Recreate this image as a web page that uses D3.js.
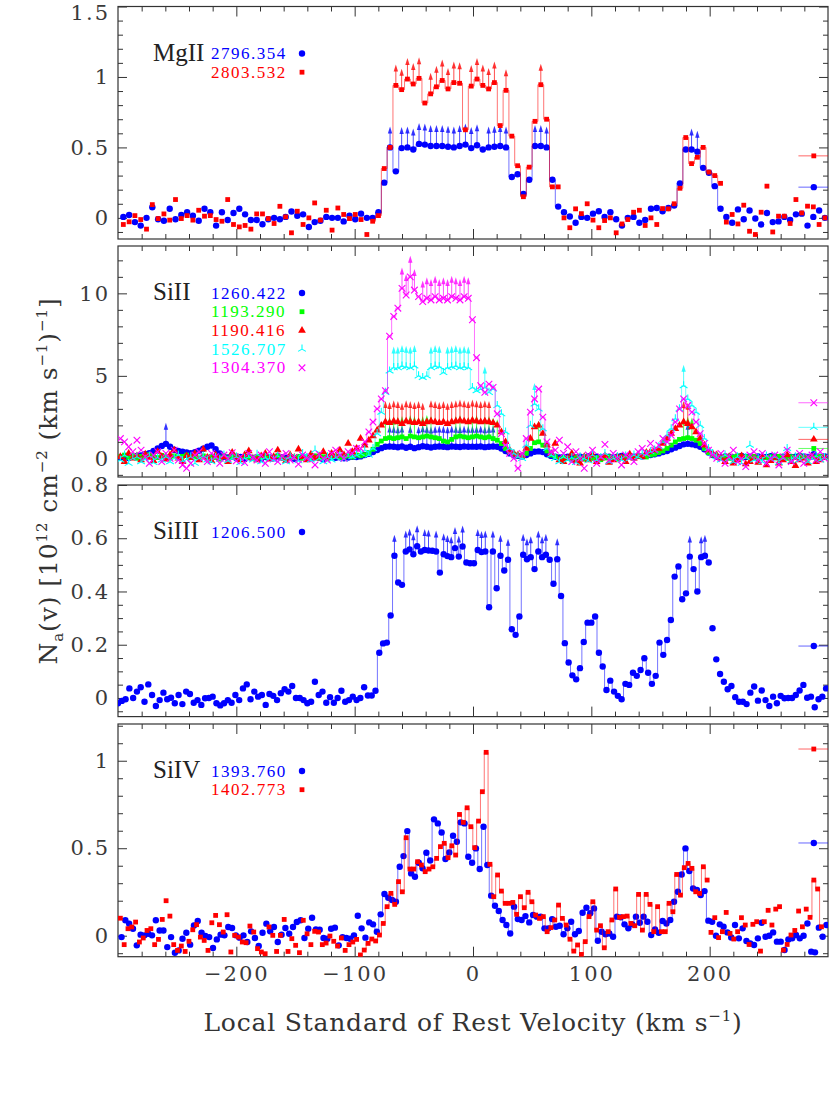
<!DOCTYPE html>
<html>
<head>
<meta charset="utf-8">
<script src="https://cdn.jsdelivr.net/npm/d3@7"></script>
<style>
  body { margin: 0; background: #fff; }
</style>
</head>
<body>
<script>
// velocity grids (km/s): first bin and bin width for each spectrum
const mgV0 = -295.5, mgDv = 4.9;
const siiV0 = -298, siiDv = 3.5;
const siiiV0 = -300, siiiDv = 3.2;
const sivBlueV0 = -297, sivRedV0 = -298, sivDv = 3.22;

// apparent column density, 10^12 cm^-2 (km/s)^-1
const mg2796 = [0.007,0.02,-0.03,-0.055,0,0.075,-0.01,-0.02,0.065,-0.01,
  0.02,0.04,0.015,-0.02,0.065,0.04,-0.055,0.04,-0.015,0.035,
  0.065,0.025,-0.015,-0.015,-0.045,-0.01,0,-0.01,0.007,0.045,
  0.015,0.025,-0.065,-0.03,-0.02,0.007,0,0,-0.025,0.015,
  -0.01,0.03,0,0,0.04,0.25,0.5,0.33,0.495,0.5,
  0.485,0.525,0.52,0.51,0.51,0.51,0.505,0.5,0.51,0.52,
  0.495,0.515,0.485,0.5,0.505,0.51,0.5,0.29,0.31,0.17,
  0.27,0.51,0.51,0.5,0.27,0.08,0.04,0.01,-0.035,0.007,
  0,0.03,0.047,0.007,0.04,-0.01,-0.055,0,0.007,-0.035,
  -0.015,0.065,0.07,0.047,0.07,0.087,0.245,0.485,0.485,0.47,
  0.355,0.32,0.225,0.065,0.007,-0.035,0.06,-0.01,0.052,-0.005,
  -0.047,0.035,-0.03,-0.025,0.007,-0.015,0.025,0.03,-0.055,0.007,
  0.052,0,-0.012];
const mg2803 = [-0.047,-0.028,0.016,-0.012,-0.08,0.094,-0.005,0.028,-0.016,0.13,
  -0.005,0.016,-0.016,0.054,0.012,0.016,-0.012,-0.024,0.13,-0.047,
  -0.064,-0.054,-0.08,0.028,0.028,-0.005,-0.04,0.082,0.007,-0.106,
  0.047,-0.047,0,0.106,-0.016,0.054,-0.087,0.07,0.024,-0.005,
  0.024,-0.012,-0.118,-0.024,0.016,0.35,0.5,0.94,0.91,0.985,
  0.95,0.99,0.815,0.88,0.93,0.975,0.915,0.96,0.955,0.625,
  0.935,0.985,0.94,0.915,0.96,0.655,0.905,0.58,0.37,0.15,
  0.36,0.685,0.945,0.7,0.22,0.22,0,-0.07,0.064,0.03,
  0.1,-0.016,-0.07,-0.019,0,-0.106,-0.043,-0.012,0.04,0.054,
  -0.054,0,-0.047,0.066,0.064,0.1,0.21,0.57,0.385,0.43,
  0.5,0.325,0.3,0.245,-0.03,0.024,-0.043,0.09,-0.095,-0.118,
  0.04,0.225,-0.1,0.012,0.012,-0.04,0.13,0.035,0.083,0.078,
  -0.047,0,-0.04];
const mg2796Lim = [46,48,49,50,51,52,53,54,55,56,57,58,59,60,61,63,64,65,66,71,72,73,98,99];
const mg2803Lim = [47,48,49,50,51,53,54,55,56,57,58,60,61,62,63,64,66,72];

const sii1260 = [0.05,0.12,0.02,0.1,0.15,0.18,
  0.25,0.32,0.45,0.6,0.75,0.88,0.7,0.52,0.45,0.4,0.36,0.32,0.38,0.46,0.58,0.7,0.78,0.55,0.3,
  0.1,0.05,0.12,0,0.08,-0.05,0.1,0.03,0.07,-0.02,0.1,0.05,0,0.12,0.06,0.02,0.09,-0.03,0.05,0.1,
  0.04,0,0.08,0.05,-0.04,0.06,0.1,0.03,0.07,0,0.05,0.1,0.08,0.12,0.2,
  0.28,0.38,0.5,0.62,0.7,0.72,0.7,0.67,
  0.72,0.64,0.7,0.62,0.68,0.73,0.7,0.66,0.7,0.72,0.7,0.68,0.72,0.7,0.69,0.72,0.7,0.71,0.7,0.72,0.68,0.7,0.72,0.7,
  0.6,0.45,0.3,0.2,0.15,0.12,
  0.2,0.3,0.4,0.42,0.38,0.25,0.15,
  0.1,0.05,0.08,0.1,0.12,0.06,0.1,0.05,0.12,0.08,0.1,0.06,0.12,0.1,0.05,0.1,0.14,0.08,0.12,0.1,0.15,0.12,0.18,0.2,0.25,0.3,0.38,
  0.45,0.55,0.65,0.75,0.85,0.88,0.85,0.8,0.7,0.55,0.35,0.2,0.1,
  0.08,0.12,0.1,0.05,0.1,0.14,0.08,0.1,0.06,0.12,0.1,0.08,0.13,0.1,0.05,0.1,0.12,0.08,0.1,0.14,0.1,0.06,0.12,0.1,0.08,0.12];
const sii1193 = [0.1,0.2,0.05,0.15,0,0.12,0.08,0.22,0.1,0.05,
  0.18,0.1,0.02,0.15,0.08,0.12,0.2,0.05,0.1,0,
  0.15,0.08,0.12,0.05,-0.05,0.1,0.02,0.08,0.15,0,
  0.1,0.05,-0.02,0.12,0.06,0.1,0,0.08,0.15,0.05,
  -0.05,0.1,0.04,0.12,0,0.08,0.05,0.15,0.02,0.1,
  -0.03,0.08,0.12,0.05,0.1,0.15,0.08,0.2,0.15,0.22,
  0.35,0.55,0.85,1.05,1.2,1.25,1.2,
  1.25,1.3,1.2,1.35,1.3,1.25,1.3,1.35,1.3,1.25,1.2,1.05,1,1.15,1.3,1.35,1.3,1.25,1.3,1.35,1.3,1.25,1.3,1.2,1.1,
  0.9,0.6,0.4,0.25,0.15,0.1,
  0.3,0.6,0.95,1,0.8,0.45,0.2,
  0.1,-0.05,0.05,0,-0.1,0.08,0.02,-0.05,0.1,0,0.05,-0.08,0.02,0.1,0,-0.05,0.08,0.05,0.12,0,0.1,0.15,0.08,0.2,0.25,0.35,0.45,
  0.6,0.8,1,1.15,1.2,1.25,1.2,1.1,0.9,0.6,0.35,0.2,0.1,
  0.05,0.12,0,0.08,0.15,0.02,0.1,0.05,0.12,0,0.08,0.05,0.1,0.02,0.12,0.08,0,0.1,0.05,0.15,0.08,0.02,0.1,0.05,0.12,0.08];
const sii1190 = [0.1,-0.2,0.3,0,0.15,-0.1,0.25,0.05,-0.15,0.4,
  0.1,-0.05,0.2,0.5,0,-0.2,0.15,0.05,0.3,-0.1,
  0.55,0.05,-0.15,0.2,0,0.1,-0.2,0.35,0.05,-0.1,
  0.2,0.45,0,-0.1,0.15,0.3,-0.05,0.1,0.5,0,
  -0.15,0.2,0.05,0.55,0.1,-0.1,0.25,0,0.15,0.4,
  0.1,0.3,0.15,0.5,0.2,0.9,0.4,0.6,1.2,0.8,
  1.1,1.35,1.7,2,2.2,2.15,2.25,
  2.2,2.1,2.25,2.2,2.15,2.2,2.1,2.2,2.25,2.2,2.15,2.2,2.1,2.2,2.25,2.3,2.25,2.2,2.3,2.25,2.2,2.25,2.2,2.15,2,
  1.6,1,0.5,0.3,0.2,0.15,
  0.6,1.2,1.9,2,1.5,0.8,0.3,
  0.9,-0.1,-0.2,0,0.3,-0.15,-0.3,0.1,-0.1,0.2,-0.2,0,0.15,-0.25,-0.1,0.1,0.05,-0.2,0.25,0,0.2,0.1,0.35,0.4,0.5,0.6,0.9,
  1.2,1.5,1.8,2,2.2,2.1,1.9,1.6,1.2,0.8,0.5,0.3,0.2,
  0,-0.2,0.1,-0.3,-0.1,0.15,-0.35,-0.2,0,-0.25,0.1,-0.4,-0.15,0.05,-0.3,-0.1,0.2,-0.2,-0.45,-0.1,0,-0.3,0.1,-0.2,-0.1,0.05];
const sii1526 = [-0.1,0.2,-0.3,0,0.1,-0.2,-0.05,0.15,-0.25,0.05,
  -0.1,0.1,-0.2,0,0.2,-0.15,-0.05,0.1,-0.3,0,
  0.15,-0.1,-0.2,0.05,-0.05,0.2,-0.15,0,0.1,-0.25,
  0,0.1,-0.1,0.25,-0.2,0.05,0,-0.1,0.15,-0.05,
  -0.2,0.1,0,-0.15,0.3,0.05,-0.1,0.5,0,-0.2,
  0.1,-0.1,0.05,0.2,-0.05,0.15,0.1,0.2,0.3,0.5,
  0.2,0.6,1.5,2.8,4,5.3,5.5,5.5,5.6,5.55,5.5,5.6,5,4.9,5,5.5,5.6,5.55,5.2,5.5,5.55,5.6,5.5,5.55,5.5,4.3,4.1,4.2,4.3,4,4.2,3.2,
  2.7,1.6,0.6,0.3,0.1,0,
  0.8,2,3.3,3,1.8,0.6,0.2,
  0,-0.2,0.1,-0.1,0.05,-0.25,0.1,0,-0.15,0.2,-0.1,0.05,0.3,-0.2,0,0.1,-0.1,0.15,0,0.2,0.1,0.3,0.25,0.4,0.5,0.7,1,
  1.4,1.8,2.4,3,4.4,3.6,3.2,2.8,2,1.2,0.6,0.3,0.1,
  -0.1,0.2,0,-0.2,0.1,-0.3,0.05,0.8,-0.1,0,-0.2,0.15,-0.05,0.1,-0.25,0,0.6,-0.15,0.1,-0.1,0.05,-0.2,0,0.15,-0.1,0.05];
const sii1304 = [1.2,1,0.7,0.4,1.1,0.5,0.1,-0.3,0.2,0.4,
  -0.2,0.3,0,0.5,-0.1,-0.4,-0.6,-0.3,0.2,0.4,
  0,-0.2,0.3,0.1,-0.3,0.2,0,0.35,-0.15,0.1,
  -0.25,0.3,0.05,-0.1,0.2,-0.3,0.4,0,-0.2,0.15,
  0.3,-0.1,0.05,-0.35,0.2,0,0.1,-0.4,0.25,0,
  -0.1,0.3,0.5,0.2,0,0.4,0.3,0.6,0.6,1,
  1.6,2.2,3,3.6,4.1,7.4,8.6,9.1,10.3,9.9,11,10.2,9.8,9.5,9.7,9.6,9.8,9.6,9.7,9.6,9.8,9.7,9.6,9.8,9.7,8.4,6.1,4.4,4,4.5,4.3,2.7,
  1.5,0.8,0.3,0,-0.6,0.3,
  1.2,2.8,3.6,4.2,2.5,1,0.4,
  0.5,1.1,0.3,0.7,-0.2,0.4,0,-0.6,0.2,0.5,-0.3,0.1,0.85,-0.1,0.3,0,-0.4,0.2,0.1,-0.2,0.4,0.6,0.3,0.9,0.5,0.8,1.2,
  1,1.4,2.2,3,3.6,3.2,2.8,2.2,1.5,0.9,0.5,0.2,0,
  0.3,-0.3,0.1,0.5,-0.2,0,-0.5,0.2,0.4,-0.1,0.3,-0.3,0,0.2,-0.4,0.1,0.5,-0.2,0,0.3,-0.3,0.1,0.2,-0.1,0.4,0];
const sii1260Lim = [11,65,66,67,68,70,72,73,74,75,76,77,78,79,80,81,82,83,84,85,86,87,88,89,90,137];
const sii1193Lim = [64,65,66,67,68,70,71,73,74,75,81,82,84,85,86,88,89,90,91,101,136,137,138];
const sii1190Lim = [64,65,66,67,68,69,70,71,72,73,75,76,77,78,79,80,81,82,83,84,85,86,87,88,89,136,137];
const sii1526Lim = [66,67,68,69,70,71,75,76,77,79,80,81,82,83,84,88,100,136];
const sii1304Lim = [68,69,70,71,73,74,75,76,77,78,79,80,81,82,83,84];

const siii1206 = [-0.02,-0.011,-0.005,0.036,0,0.024,0.04,-0.014,0.051,0.011,
  -0.03,-0.008,0.02,-0.005,0.001,-0.02,0.011,-0.023,0.024,0.015,
  -0.018,-0.008,-0.026,-0.001,0,0.005,-0.02,-0.028,-0.02,-0.008,
  -0.018,0.011,-0.008,0.036,0.051,-0.005,0.024,0.005,0.011,-0.026,
  0.015,0.008,-0.008,0.018,0.033,0.024,0.045,0,0,-0.008,
  -0.02,-0.014,0.061,0.011,0.024,-0.018,0.003,-0.018,0,0.027,
  -0.014,-0.008,0.005,-0.008,0,0.04,0.009,0.009,0.027,
  0.17,0.205,0.208,0.31,0.534,0.434,0.425,0.55,0.558,0.54,
  0.57,0.55,0.556,0.554,0.553,0.55,0.471,0.54,0.533,0.529,
  0.563,0.531,0.569,0.509,0.506,0.506,0.556,0.548,0.55,0.341,
  0.55,0.412,0.534,0.479,0.519,0.258,0.237,0.306,0.538,0.521,
  0.529,0.484,0.55,0.529,0.538,0.519,0.429,0.521,0.383,0.206,
  0.133,0.085,0.07,0.112,0.21,0.283,0.283,0.306,0.17,0.118,
  0.03,0.065,0.024,0.008,-0.005,0.053,0.049,0.095,0.083,0.105,
  0.149,0.095,0.053,0.083,0.208,0.162,0.218,0.293,0.456,0.494,
  0.371,0.393,0.531,0.484,0.4,0.529,0.534,0.509,0.262,0.145,
  0.09,0.061,0.033,0.045,0.003,-0.014,-0.014,-0.023,0.02,0.043,
  -0.01,0.028,-0.008,-0.03,0.005,-0.02,0.008,-0.001,0,0,
  0.011,0.028,0.049,0.001,0.005,-0.035,-0.005,0.005,0.036];
const siii1206Lim = [73,76,77,78,79,81,82,84,86,87,88,89,90,91,95,96,97,99,101,103,107,108,109,111,112,113,116,151,154,155];

const siv1393 = [-0.008,0.088,0.069,0.04,-0.055,0.006,0.002,0.011,0.002,0.088,
  0.03,0.03,-0.065,-0.008,-0.097,-0.084,-0.017,0.017,-0.051,0.059,
  0.084,0.017,-0.002,-0.008,-0.07,-0.021,0.006,0.002,0.05,0.044,
  0.002,-0.011,0.002,-0.036,0.025,-0.013,-0.059,0.017,0.069,0.025,
  0.05,-0.036,0.006,0.044,0.011,0.05,0.078,0.088,-0.013,0.04,
  0.103,0.036,0.034,-0.013,-0.017,0.04,0.046,-0.055,-0.008,-0.013,
  -0.017,0.002,
  0.114,0.042,-0.011,0.076,0.065,0.023,0.122,0.238,0.217,0.204,
  0.194,0.394,0.455,0.598,0.356,0.337,0.417,0.385,0.474,0.43,
  0.665,0.642,0.59,0.438,0.476,0.571,0.537,0.648,0.642,0.451,
  0.417,0.499,0.381,0.623,0.404,0.229,0.171,0.141,0.09,0.061,
  0.013,0.166,0.095,0.09,0.112,0.076,0.118,0.109,0.109,0.042,
  0.042,0.095,0.051,0.057,0.008,0.042,0.08,0.008,0.027,0.131,
  0.16,0.128,0.156,-0.029,0.023,0.008,0.013,-0.006,0.109,0.105,
  0.065,0.042,0.065,0.109,0.074,0.109,0.08,0.004,0.036,0.017,
  0.084,0.07,0.09,0.194,0.251,0.35,0.499,0.37,0.27,0.261,
  0.232,0.255,0.086,0.08,0,0.065,0.051,0.019,-0.01,0.061,
  -0.015,0.042,-0.03,-0.044,-0.053,-0.015,0.074,-0.006,0,0.019,
  -0.034,-0.034,-0.082,-0.021,-0.015,0.004,-0.015,0,0.07,-0.091,
  -0.095,0.046,-0.006,0.061];
const siv1402 = [0.1,-0.051,0.04,0.05,0.078,-0.036,-0.013,0.03,0.04,-0.051,
  -0.021,0.093,0.2,0.112,-0.051,-0.084,-0.059,-0.09,-0.032,0.034,
  0.063,-0.008,-0.027,-0.084,0.074,0.116,0.063,0.021,0.12,-0.093,
  0.002,-0.008,-0.036,-0.04,0.055,0.021,-0.074,-0.093,-0.103,0.05,
  0.002,-0.09,0.002,0.093,-0.09,-0.017,-0.055,-0.097,0.088,0.011,
  -0.051,0.025,0.021,-0.051,-0.042,-0.002,-0.032,-0.059,-0.013,-0.084,
  -0.051,-0.036,-0.021,
  -0.11,-0.082,-0.044,-0.019,-0.03,0.004,0.07,0.166,0.242,0.179,
  0.309,0.251,0.56,0.381,0.381,0.423,0.404,0.366,0.381,0.394,
  0.442,0.509,0.528,0.446,0.514,0.461,0.693,0.648,0.731,0.623,
  0.503,0.655,0.823,1.048,0.408,0.223,0.347,0.255,0.185,0.185,
  0.19,0.122,0.223,0.16,0.248,0.194,0.118,0.099,0.109,0.023,
  0.046,0.09,0.175,0.099,0.061,-0.02,-0.088,-0.053,-0.107,-0.034,
  0.109,0.194,0.032,0.057,-0.069,0.023,0.09,0.267,0.105,0.109,
  0.112,0.07,0.057,0.236,0.032,0.236,0.179,0.023,0.166,0.023,
  0.023,0.185,0.137,0.35,0.232,0.389,0.413,0.385,0.251,0.242,
  0.394,0.318,0.019,0.103,-0.011,0.023,0.133,0.013,-0.019,0.023,
  0.103,0.061,-0.05,0.065,0.08,-0.088,0.08,0.145,0.061,0.152,
  0.166,-0.082,-0.05,0.004,0.03,0.141,0.051,0.152,0.105,0.318,
  0.267,0.051];

// summary values drawn at the right edge of each panel
const mgSide = [0.218, 0.44];
const siiSide = [0.25, 0.6, 1.15, 1.88, 3.37];
const siiiSide = [0.195];
const sivSide = [0.53, 1.067];

// velocity windows where the binned profile is drawn as a histogram
const mgWin = [[-88, 74], [170, 214]];
const siiWin = [[-92, 70], [160, 206]];
const siiiWin = [[-90, 200]];
const sivWin = [[-90, 200]];
const sivRedWin = [[-92, 200], [284, 300]];

const blue = "#0000ff", red = "#ff0000", green = "#00ff00", cyan = "#00ffff", magenta = "#ff00ff";

const panels = [
  { ion: "MgII", top: 6.5, bottom: 239, domain: [-0.15, 1.5], major: [0, 0.5, 1, 1.5], minor: 0.1,
    series: [
      { wl: "2796.354", color: blue, shape: "circle", vals: mg2796, v0: mgV0, dv: mgDv, lim: mg2796Lim, win: mgWin, side: mgSide[0] },
      { wl: "2803.532", color: red, shape: "square", vals: mg2803, v0: mgV0, dv: mgDv, lim: mg2803Lim, win: mgWin, side: mgSide[1] }
    ] },
  { ion: "SiII", top: 246, bottom: 477, domain: [-1.13, 12.87], major: [0, 5, 10], minor: 1,
    series: [
      { wl: "1260.422", color: blue, shape: "circle", vals: sii1260, v0: siiV0, dv: siiDv, lim: sii1260Lim, win: siiWin, side: siiSide[0] },
      { wl: "1193.290", color: green, shape: "square", vals: sii1193, v0: siiV0, dv: siiDv, lim: sii1193Lim, win: siiWin, side: siiSide[1] },
      { wl: "1190.416", color: red, shape: "triangle", vals: sii1190, v0: siiV0, dv: siiDv, lim: sii1190Lim, win: siiWin, side: siiSide[2] },
      { wl: "1526.707", color: cyan, shape: "tristar", vals: sii1526, v0: siiV0, dv: siiDv, lim: sii1526Lim, win: siiWin, side: siiSide[3] },
      { wl: "1304.370", color: magenta, shape: "cross", vals: sii1304, v0: siiV0, dv: siiDv, lim: sii1304Lim, win: siiWin, side: siiSide[4] }
    ] },
  { ion: "SiIII", top: 485, bottom: 716.6, domain: [-0.07, 0.8], major: [0, 0.2, 0.4, 0.6, 0.8], minor: 0.05,
    series: [
      { wl: "1206.500", color: blue, shape: "circle", vals: siii1206, v0: siiiV0, dv: siiiDv, lim: siii1206Lim, win: siiiWin, side: siiiSide[0] }
    ] },
  { ion: "SiIV", top: 724, bottom: 956.7, domain: [-0.12, 1.21], major: [0, 0.5, 1], minor: 0.1,
    series: [
      { wl: "1393.760", color: blue, shape: "circle", vals: siv1393, v0: sivBlueV0, dv: sivDv, lim: [], win: sivWin, side: sivSide[0] },
      { wl: "1402.773", color: red, shape: "square", vals: siv1402, v0: sivRedV0, dv: sivDv, lim: [], win: sivRedWin, side: sivSide[1] }
    ] }
];

const width = 831, height = 1096;
const left = 118, right = 828;
const ink = "#333";

const svg = d3.select("body").append("svg")
  .attr("width", width)
  .attr("height", height)
  .attr("viewBox", [0, 0, width, height])
  .attr("font-family", "DejaVu Serif");

const x = d3.scaleLinear().domain([-300, 300]).range([left, right]);

function marker(sel, shape, color) {
  if (shape === "circle") {
    sel.append("circle").attr("r", 3.2).attr("fill", color);
  } else if (shape === "square") {
    sel.append("rect").attr("x", -2.4).attr("y", -2.4).attr("width", 4.8).attr("height", 4.8).attr("fill", color);
  } else if (shape === "triangle") {
    sel.append("path").attr("d", d3.symbol(d3.symbolTriangle, 26)()).attr("fill", color);
  } else if (shape === "tristar") {
    sel.append("path").attr("d", "M0,0V-4.5M0,0L-3.9,2.3M0,0L3.9,2.3")
      .attr("stroke", color).attr("stroke-width", 1.1).attr("fill", "none");
  } else {
    sel.append("path").attr("d", "M-3.3,-3.3L3.3,3.3M-3.3,3.3L3.3,-3.3")
      .attr("stroke", color).attr("stroke-width", 1.1).attr("fill", "none");
  }
}

panels.forEach((p, k) => {
  const y = d3.scaleLinear().domain(p.domain).range([p.bottom, p.top]);
  const g = svg.append("g").attr("class", "panel");
  const last = k === panels.length - 1;

  g.append("clipPath").attr("id", "clip" + k)
    .append("rect").attr("x", left).attr("y", p.top)
    .attr("width", right - left).attr("height", p.bottom - p.top);

  // axes: ticks point inward on all four sides
  const xMajor = [-200, -100, 0, 100, 200];
  const xMinor = d3.range(-280, 300, 20).filter(v => v % 100 !== 0);
  const yMinor = d3.range(Math.ceil(p.domain[0] / p.minor) * p.minor, p.domain[1], p.minor)
    .filter(v => !p.major.some(m => Math.abs(m - v) < 1e-6));

  const styleAxis = a => {
    a.select(".domain").remove();
    a.attr("font-family", "DejaVu Serif").attr("font-size", 21);
    a.selectAll("line").attr("stroke", ink);
    a.selectAll("text").attr("fill", "#3a3a3a").attr("letter-spacing", 2);
  };

  g.append("g").attr("transform", `translate(0,${p.bottom})`)
    .call(d3.axisBottom(x).tickValues(xMajor).tickSize(-10).tickPadding(9)
      .tickFormat(last ? d3.format("d") : () => ""))
    .call(styleAxis);
  g.append("g").attr("transform", `translate(0,${p.bottom})`)
    .call(d3.axisBottom(x).tickValues(xMinor).tickSize(-5).tickFormat(() => ""))
    .call(styleAxis);
  g.append("g").attr("transform", `translate(0,${p.top})`)
    .call(d3.axisTop(x).tickValues(xMajor).tickSize(-10).tickFormat(() => ""))
    .call(styleAxis);
  g.append("g").attr("transform", `translate(0,${p.top})`)
    .call(d3.axisTop(x).tickValues(xMinor).tickSize(-5).tickFormat(() => ""))
    .call(styleAxis);
  g.append("g").attr("transform", `translate(${left},0)`)
    .call(d3.axisLeft(y).tickValues(p.major).tickSize(-9).tickPadding(8).tickFormat(d3.format("~g")))
    .call(styleAxis)
    .call(a => a.selectAll("text").filter(d => y(d) < 12).attr("dy", "0.62em"));
  g.append("g").attr("transform", `translate(${left},0)`)
    .call(d3.axisLeft(y).tickValues(yMinor).tickSize(-5).tickFormat(() => ""))
    .call(styleAxis);
  g.append("g").attr("transform", `translate(${right},0)`)
    .call(d3.axisRight(y).tickValues(p.major).tickSize(-9).tickFormat(() => ""))
    .call(styleAxis);
  g.append("g").attr("transform", `translate(${right},0)`)
    .call(d3.axisRight(y).tickValues(yMinor).tickSize(-5).tickFormat(() => ""))
    .call(styleAxis);

  g.append("rect").attr("x", left).attr("y", p.top)
    .attr("width", right - left).attr("height", p.bottom - p.top)
    .attr("fill", "none").attr("stroke", ink).attr("stroke-width", 1.2);

  const plot = g.append("g").attr("clip-path", `url(#clip${k})`);

  p.series.forEach(s => {
    const pts = s.vals.map((n, i) => ({ v: s.v0 + s.dv * i, n, lim: s.lim.includes(i) }));
    const line = d3.line().curve(d3.curveStep).x(d => x(d.v)).y(d => y(d.n));

    s.win.forEach(w => {
      plot.append("path")
        .datum(pts.filter(d => d.v >= w[0] && d.v <= w[1]))
        .attr("d", line)
        .attr("fill", "none").attr("stroke", s.color)
        .attr("stroke-opacity", 0.55).attr("stroke-width", 1);
    });

    // lower limits (saturated bins)
    const arrows = plot.append("g").selectAll("g").data(pts.filter(d => d.lim)).join("g")
      .attr("transform", d => `translate(${x(d.v)},${y(d.n)})`);
    arrows.append("line").attr("y2", -15)
      .attr("stroke", s.color).attr("stroke-opacity", 0.7).attr("stroke-width", 1);
    arrows.append("path").attr("d", "M0,-21L-2.2,-14L2.2,-14Z")
      .attr("fill", s.color).attr("fill-opacity", 0.8);

    plot.append("g").selectAll("g").data(pts).join("g")
      .attr("transform", d => `translate(${x(d.v)},${y(d.n)})`)
      .each(function () { marker(d3.select(this), s.shape, s.color); });

    // right-edge summary marker
    plot.append("line")
      .attr("x1", x(275)).attr("x2", x(300))
      .attr("y1", y(s.side)).attr("y2", y(s.side))
      .attr("stroke", s.color).attr("stroke-opacity", 0.6);
    marker(plot.append("g").attr("transform", `translate(${x(288)},${y(s.side)})`), s.shape, s.color);
  });

  // ion label and legend
  g.append("text").attr("x", 153).attr("y", p.top + 54)
    .attr("font-family", "Liberation Serif")
    .attr("font-size", 25).attr("fill", "#222").text(p.ion);
  p.series.forEach((s, j) => {
    const cy = p.top + 47 + 18.7 * j;
    g.append("text").attr("x", 211).attr("y", cy + 5.5)
      .attr("font-family", "Liberation Serif")
      .attr("font-size", 17).attr("letter-spacing", 1.5).attr("fill", s.color).text(s.wl);
    marker(g.append("g").attr("transform", `translate(302,${cy})`), s.shape, s.color);
  });
});

// axis titles
svg.append("text")
  .attr("x", (left + right) / 2).attr("y", 1031)
  .attr("text-anchor", "middle").attr("font-size", 25).attr("letter-spacing", 0.8).attr("fill", ink)
  .call(t => {
    t.append("tspan").text("Local Standard of Rest Velocity (km s");
    t.append("tspan").attr("dy", -10).attr("font-size", 15).text("−1");
    t.append("tspan").attr("dy", 10).text(")");
  });

svg.append("text")
  .attr("transform", "translate(57,481) rotate(-90)")
  .attr("text-anchor", "middle").attr("font-size", 25).attr("letter-spacing", 0.9).attr("fill", ink)
  .call(t => {
    t.append("tspan").text("N");
    t.append("tspan").attr("dy", 6).attr("font-size", 15).text("a");
    t.append("tspan").attr("dy", -6).text("(v) [10");
    t.append("tspan").attr("dy", -10).attr("font-size", 15).text("12");
    t.append("tspan").attr("dy", 10).text(" cm");
    t.append("tspan").attr("dy", -10).attr("font-size", 15).text("−2");
    t.append("tspan").attr("dy", 10).text(" (km s");
    t.append("tspan").attr("dy", -10).attr("font-size", 15).text("−1");
    t.append("tspan").attr("dy", 10).text(")");
    t.append("tspan").attr("dy", -10).attr("font-size", 15).text("−1");
    t.append("tspan").attr("dy", 10).text("]");
  });
</script>
</body>
</html>
